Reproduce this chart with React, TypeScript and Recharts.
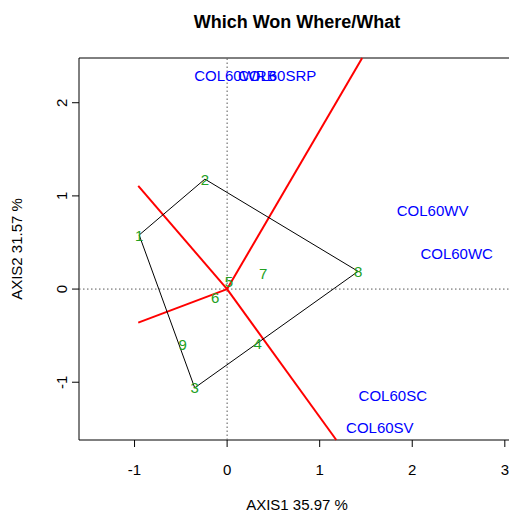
import {
  ReferenceArea,
  ReferenceLine,
  Scatter,
  ScatterChart,
  XAxis,
  YAxis
} from "recharts";

// genotype scores (green numbers)
const genoNames = ["1", "2", "3", "4", "5", "6", "7", "8", "9"];
const genoX = [-0.95, -0.24, -0.35, 0.33, 0.02, -0.13, 0.39, 1.415, -0.48];
const genoY = [0.58, 1.18, -1.06, -0.58, 0.08, -0.09, 0.17, 0.19, -0.6];

// environment scores (blue labels)
const envNames = ["COL60WRB", "COL60SRP", "COL60WV", "COL60WC", "COL60SC", "COL60SV"];
const envX = [0.09, 0.54, 2.22, 2.48, 1.79, 1.65];
const envY = [2.29, 2.29, 0.84, 0.385, -1.14, -1.49];

// convex hull vertices, by genotype index
const hullOrder = [0, 1, 7, 2, 0];

// rays from the origin, perpendicular to hull sides
const rayX = [1.459, -0.96, 1.18, -0.96];
const rayY = [2.48, 1.107, -1.62, -0.36];

const xTicks = [-1, 0, 1, 2, 3];
const yTicks = [-1, 0, 1, 2];
const xDomain = [-1.6, 3.11];
const yDomain = [-1.62, 2.48];

const font = "'Liberation Sans', Arial, Helvetica, sans-serif";

const genoData = genoNames.map((name, i) => ({ name, x: genoX[i], y: genoY[i] }));
const envData = envNames.map((name, i) => ({ name, x: envX[i], y: envY[i] }));
const hullData = hullOrder.map((i) => ({ x: genoX[i], y: genoY[i] }));

const textShape = (color: string) => (props: any) => (
  <text
    x={props.cx}
    y={props.cy}
    textAnchor="middle"
    dominantBaseline="central"
    fill={color}
    fontSize={15}
    fontFamily={font}
  >
    {props.payload.name}
  </text>
);

const XTick = (props: any) => (
  <g>
    <line x1={props.x} y1={440} x2={props.x} y2={447} stroke="#000" />
    <text x={props.x} y={475} textAnchor="middle" fontSize={15} fontFamily={font} fill="#000">
      {props.payload.value}
    </text>
  </g>
);

const YTick = (props: any) => (
  <g>
    <line x1={72} y1={props.y} x2={79} y2={props.y} stroke="#000" />
    <text
      x={67}
      y={props.y}
      textAnchor="middle"
      fontSize={15}
      fontFamily={font}
      fill="#000"
      transform={`rotate(-90, 67, ${props.y})`}
    >
      {props.payload.value}
    </text>
  </g>
);

export default function App() {
  return (
    <div
      style={{
        position: "absolute",
        left: 0,
        top: 0,
        width: 509,
        height: 511,
        overflow: "hidden",
        background: "#fff"
      }}
    >
      <ScatterChart width={530} height={511} margin={{ top: 58, right: 15, bottom: 0, left: 0 }}>
        <XAxis
          type="number"
          dataKey="x"
          domain={xDomain}
          ticks={xTicks}
          allowDataOverflow
          axisLine={false}
          tickLine={false}
          tick={<XTick />}
          height={71}
        />
        <YAxis
          type="number"
          dataKey="y"
          domain={yDomain}
          ticks={yTicks}
          allowDataOverflow
          axisLine={false}
          tickLine={false}
          tick={<YTick />}
          width={79}
        />
        <ReferenceArea
          x1={xDomain[0]}
          x2={xDomain[1]}
          y1={yDomain[0]}
          y2={yDomain[1]}
          fill="none"
          stroke="#000"
          strokeWidth={1}
        />
        <ReferenceLine x={0} stroke="#555" strokeDasharray="1.5 2.5" />
        <ReferenceLine y={0} stroke="#555" strokeDasharray="1.5 2.5" />
        <Scatter
          data={hullData}
          line={{ stroke: "#000", strokeWidth: 1 }}
          shape={() => null}
          isAnimationActive={false}
        />
        {rayX.map((rx, i) => (
          <ReferenceLine
            key={i}
            segment={[
              { x: 0, y: 0 },
              { x: rx, y: rayY[i] }
            ]}
            stroke="#ff0000"
            strokeWidth={2}
          />
        ))}
        <Scatter data={genoData} shape={textShape("#22a022")} isAnimationActive={false} />
        <Scatter data={envData} shape={textShape("#0000ff")} isAnimationActive={false} />
      </ScatterChart>
      <svg
        width={509}
        height={511}
        style={{ position: "absolute", left: 0, top: 0, pointerEvents: "none" }}
      >
        <text x={297} y={28} textAnchor="middle" fontSize={18} fontWeight="bold" fontFamily={font}>
          Which Won Where/What
        </text>
        <text x={297} y={510} textAnchor="middle" fontSize={15} fontFamily={font}>
          AXIS1 35.97 %
        </text>
        <text
          x={22}
          y={249}
          textAnchor="middle"
          fontSize={15}
          fontFamily={font}
          transform="rotate(-90, 22, 249)"
        >
          AXIS2 31.57 %
        </text>
      </svg>
    </div>
  );
}
